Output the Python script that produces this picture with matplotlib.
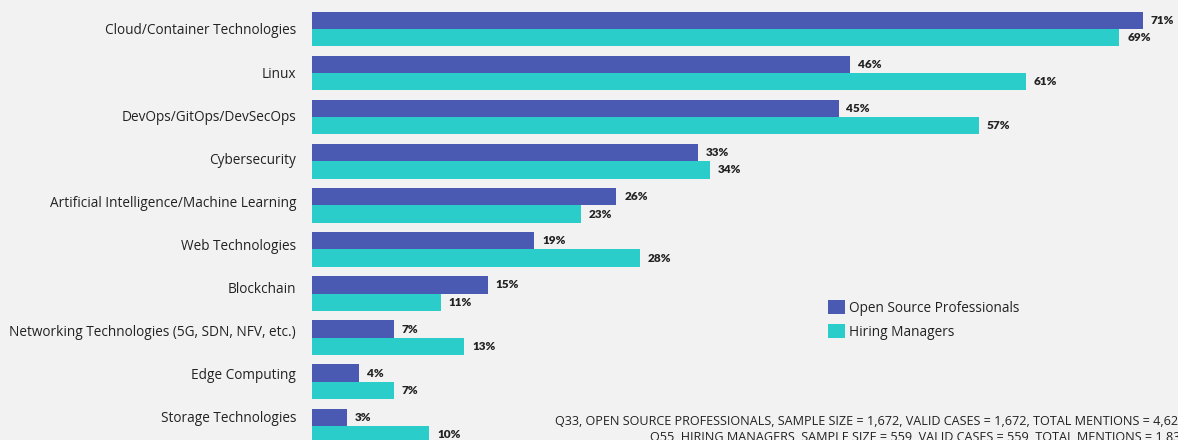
import matplotlib
matplotlib.use("Agg")
import matplotlib.pyplot as plt
import numpy as np

categories = [
    "Cloud/Container Technologies",
    "Linux",
    "DevOps/GitOps/DevSecOps",
    "Cybersecurity",
    "Artificial Intelligence/Machine Learning",
    "Web Technologies",
    "Blockchain",
    "Networking Technologies (5G, SDN, NFV, etc.)",
    "Edge Computing",
    "Storage Technologies",
]
open_source_pros = [71, 46, 45, 33, 26, 19, 15, 7, 4, 3]
hiring_managers = [69, 61, 57, 34, 23, 28, 11, 13, 7, 10]
series_names = ["Open Source Professionals", "Hiring Managers"]
footnotes = [
    "Q33, OPEN SOURCE PROFESSIONALS, SAMPLE SIZE = 1,672, VALID CASES = 1,672, TOTAL MENTIONS = 4,62",
    "Q55, HIRING MANAGERS, SAMPLE SIZE = 559, VALID CASES = 559, TOTAL MENTIONS = 1,83",
]

BG = "#f2f2f2"
PURPLE = "#4a59b1"
TEAL = "#2bcdca"
TXT = "#222222"

W, H = 1178, 440
fig = plt.figure(figsize=(W / 100, H / 100), dpi=100, facecolor=BG)
ax = fig.add_axes([312 / W, 0, (W - 312) / W, 1])
ax.set_facecolor(BG)

px_per_pct = 11.70
ax.set_xlim(0, (W - 312) / px_per_pct)
row = 44.1
ax.set_ylim((H - 29) / row, -29 / row)

y = np.arange(len(categories))
bh = 17.3 / row
ax.barh(y - bh / 2, open_source_pros, height=bh, color=PURPLE, label=series_names[0])
ax.barh(y + bh / 2, hiring_managers, height=bh, color=TEAL, label=series_names[1])

lab_font = dict(family=["Lato", "DejaVu Sans"], fontsize=8.5, fontweight="heavy", color=TXT)
for yi, v in zip(y, open_source_pros):
    ax.annotate(f"{v}%", (v, yi - bh / 2), xytext=(8, 0), textcoords="offset pixels",
                va="center", ha="left", **lab_font)
for yi, v in zip(y, hiring_managers):
    ax.annotate(f"{v}%", (v, yi + bh / 2), xytext=(8, 0), textcoords="offset pixels",
                va="center", ha="left", **lab_font)

# category labels (slightly compressed spacing like reference)
ax.set_yticks(y - y * (1.0 / row))
ax.set_yticklabels(categories, family=["Open Sans", "DejaVu Sans"], fontsize=9.8, color=TXT)
ax.tick_params(axis="y", length=0, pad=11.5)
ax.tick_params(axis="x", bottom=False, labelbottom=False)
for s in ax.spines.values():
    s.set_visible(False)

leg = ax.legend(loc="upper left", bbox_to_anchor=((828 - 312) / (W - 312), 1 - 300 / H),
                frameon=False, prop={"family": ["Open Sans", "DejaVu Sans"], "size": 9.8},
                handlelength=1.25, handleheight=1.25, handletextpad=0.3, labelspacing=0.6,
                borderaxespad=0, borderpad=0)
for t in leg.get_texts():
    t.set_color(TXT)

fig.text(555 / W, 1 - 421 / H, footnotes[0], ha="left", va="center",
         family=["Open Sans", "DejaVu Sans"], fontsize=9.05, color=TXT)
fig.text(650 / W, 1 - 437 / H, footnotes[1], ha="left", va="center",
         family=["Open Sans", "DejaVu Sans"], fontsize=9.05, color=TXT)

fig.savefig("out.png", dpi=100, facecolor=BG)
